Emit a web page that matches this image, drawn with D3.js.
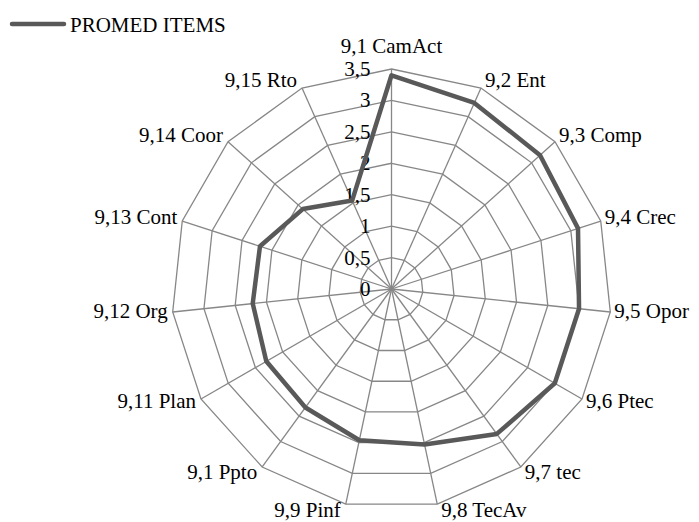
<!DOCTYPE html>
<html>
<head>
<meta charset="utf-8">
<script src="https://cdn.jsdelivr.net/npm/d3@7"></script>
<style>
  body { margin: 0; background: #fff; }
</style>
</head>
<body>
<div id="rendering"></div>
<script>
const categories = [
  "9,1 CamAct", "9,2 Ent", "9,3 Comp", "9,4 Crec", "9,5 Opor",
  "9,6 Ptec", "9,7 tec", "9,8 TecAv", "9,9 Pinf", "9,1 Ppto",
  "9,11 Plan", "9,12 Org", "9,13 Cont", "9,14 Coor", "9,15 Rto"
];
const promedItems = [3.4, 3.24, 3.18, 3.12, 3.0, 3.0, 2.85, 2.53, 2.46, 2.33, 2.3, 2.22, 2.2, 1.9, 1.54];
const ticks = [0, 0.5, 1, 1.5, 2, 2.5, 3, 3.5];
const seriesName = "PROMED ITEMS";

const width = 699;
const height = 522;
const cx = 391.5;
const cy = 289;
const radius = 220;
const font = '"Liberation Serif"';
const fontSize = "21px";

const scaleR = d3.scaleLinear().domain([0, 3.5]).range([0, radius]);
const scaleA = d3.scaleLinear().domain([0, categories.length]).range([0, 2 * Math.PI]);

const svg = d3
  .select("#rendering")
  .append("svg")
  .attr("width", width)
  .attr("height", height)
  .style("background-color", "white");

const chart = svg.append("g").attr("transform", `translate(${cx}, ${cy})`);

const point = (i, v) => {
  const a = scaleA(i) - Math.PI / 2;
  return [scaleR(v) * Math.cos(a), scaleR(v) * Math.sin(a)];
};

// grid rings
const ring = d3
  .lineRadial()
  .angle((d, i) => scaleA(i))
  .radius((d) => scaleR(d))
  .curve(d3.curveLinearClosed);

chart
  .selectAll(".ring")
  .data(ticks.slice(1))
  .enter()
  .append("path")
  .attr("class", "ring")
  .attr("d", (t) => ring(categories.map(() => t)))
  .attr("fill", "none")
  .attr("stroke", "#878787")
  .attr("stroke-width", 1.3);

// spokes
chart
  .selectAll(".spoke")
  .data(categories)
  .enter()
  .append("line")
  .attr("class", "spoke")
  .attr("x1", 0)
  .attr("y1", 0)
  .attr("x2", (d, i) => point(i, 3.5)[0])
  .attr("y2", (d, i) => point(i, 3.5)[1])
  .attr("stroke", "#878787")
  .attr("stroke-width", 1.3);

// tick labels
chart
  .selectAll(".tick-label")
  .data(ticks)
  .enter()
  .append("text")
  .attr("class", "tick-label")
  .attr("x", -21)
  .attr("y", (t) => -scaleR(t))
  .attr("dy", "0.33em")
  .attr("text-anchor", "end")
  .style("font-family", font)
  .style("font-size", fontSize)
  .text((t) => String(t).replace(".", ","));

// category labels
chart
  .selectAll(".cat-label")
  .data(categories)
  .enter()
  .append("text")
  .attr("class", "cat-label")
  .style("font-family", font)
  .style("font-size", fontSize)
  .attr("x", (d, i) => {
    const [x] = point(i, 3.5);
    if (i === 0) return x;
    return x > 0 ? x + 4 : x - 5;
  })
  .attr("y", (d, i) => {
    const [, y] = point(i, 3.5);
    if (i === 0) return y - 16;
    const s = Math.sin(scaleA(i) - Math.PI / 2);
    return y + 5.5 + 7.5 * s;
  })
  .attr("text-anchor", (d, i) => {
    if (i === 0) return "middle";
    return point(i, 3.5)[0] > 0 ? "start" : "end";
  })
  .text((d) => d);

// series
const series = d3
  .lineRadial()
  .angle((d, i) => scaleA(i))
  .radius((d) => scaleR(d))
  .curve(d3.curveLinearClosed);

chart
  .append("path")
  .datum(promedItems)
  .attr("d", series)
  .attr("fill", "none")
  .attr("stroke", "#595959")
  .attr("stroke-width", 4.5)
  .attr("stroke-linejoin", "round");

// legend
const legend = svg.append("g").attr("transform", "translate(12, 24)");

legend
  .append("line")
  .attr("x1", 0)
  .attr("x2", 52)
  .attr("y1", 0)
  .attr("y2", 0)
  .attr("stroke", "#595959")
  .attr("stroke-width", 4.5)
  .attr("stroke-linecap", "round");

legend
  .append("text")
  .attr("x", 58)
  .attr("y", 8)
  .style("font-family", font)
  .style("font-size", fontSize)
  .text(seriesName);
</script>
</body>
</html>
